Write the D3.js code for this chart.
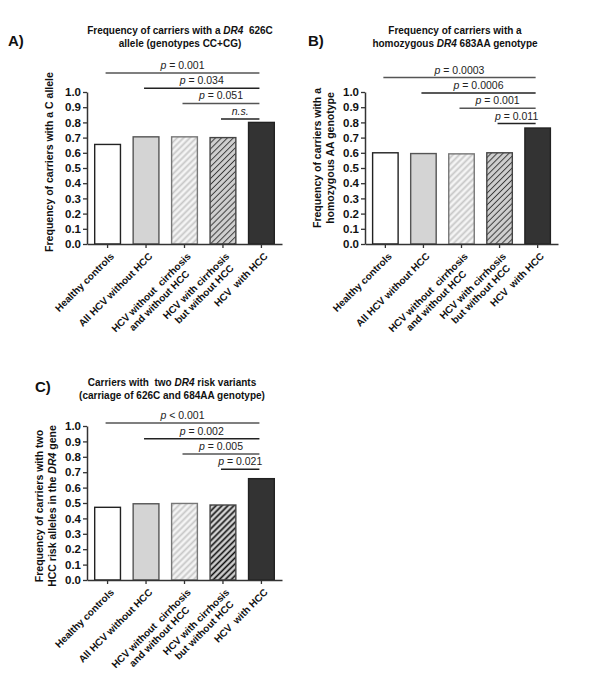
<!DOCTYPE html>
<html>
<head>
<meta charset="utf-8">
<script src="https://cdn.jsdelivr.net/npm/d3@7"></script>
<style>
  body { margin: 0; background: #fff; }
  text { font-family: "Liberation Sans", Arial, sans-serif; }
</style>
</head>
<body>
<div id="chart"></div>
<script>
// groups (\n = line break in the rotated label)
const categories = [
    "Healthy controls",
    "All HCV without HCC",
    "HCV without  cirrhosis\nand without HCC",
    "HCV with cirrhosis\nbut without HCC",
    "HCV  with HCC"
];
const valuesA = [0.655, 0.705, 0.705, 0.70, 0.80];
const valuesB = [0.60, 0.595, 0.593, 0.60, 0.763];
const valuesC = [0.472, 0.495, 0.497, 0.487, 0.658];
const yTicks = [0, 0.1, 0.2, 0.3, 0.4, 0.5, 0.6, 0.7, 0.8, 0.9, 1.0];

// p values: comparison of group i with "HCV with HCC"
const pA = ["= 0.001", "= 0.034", "= 0.051", "n.s."];
const pB = ["= 0.0003", "= 0.0006", "= 0.001", "= 0.011"];
const pC = ["< 0.001", "= 0.002", "= 0.005", "= 0.021"];

const svg = d3.select("#chart")
    .append("svg")
    .attr("width", 600)
    .attr("height", 688)
    .attr("viewBox", "0 0 600 688");

svg.append("rect").attr("width", 600).attr("height", 688).attr("fill", "#fff");

const defs = svg.append("defs");

function hatch(id, bg, line, lw, size) {
    const p = defs.append("pattern")
        .attr("id", id)
        .attr("patternUnits", "userSpaceOnUse")
        .attr("width", size)
        .attr("height", size)
        .attr("patternTransform", "rotate(45)");
    p.append("rect").attr("width", size).attr("height", size).attr("fill", bg);
    p.append("line")
        .attr("x1", size / 2).attr("y1", 0)
        .attr("x2", size / 2).attr("y2", size)
        .attr("stroke", line)
        .attr("stroke-width", lw);
}
hatch("hatchLight", "#f4f4f4", "#c8c8c8", 1.8, 4.5);
hatch("hatchDark", "#d0d0d0", "#3a3a3a", 1, 4.2);
hatch("hatchDarkC", "#d0d0d0", "#111", 1.6, 4.2);

const font = "\"Liberation Sans\", Arial, sans-serif";

function drawPanel(cfg) {
    const x = d3.scaleBand()
        .domain(categories)
        .range([cfg.left, cfg.right])
        .paddingInner(0.33)
        .paddingOuter(0.2);

    const y = d3.scaleLinear()
        .domain([0, 1])
        .range([cfg.bottom, cfg.top]);

    const g = svg.append("g");

    // bars
    g.selectAll("rect.bar")
        .data(cfg.values)
        .enter()
        .append("rect")
        .attr("class", "bar")
        .attr("x", (d, i) => x(categories[i]))
        .attr("y", (d) => y(d))
        .attr("width", x.bandwidth())
        .attr("height", (d) => y(0) - y(d))
        .attr("fill", (d, i) => cfg.fills[i])
        .attr("stroke", (d, i) => cfg.strokes[i])
        .attr("stroke-width", 1.4);

    // y axis
    const yAxis = g.append("g")
        .attr("transform", `translate(${cfg.left},0)`)
        .call(d3.axisLeft(y).tickValues(yTicks).tickFormat(d3.format(".1f")).tickSize(4).tickSizeOuter(0));
    yAxis.select(".domain").attr("stroke", "#333").attr("stroke-width", 1.5);
    yAxis.selectAll(".tick line").attr("stroke", "#333").attr("stroke-width", 1.3);
    yAxis.selectAll(".tick text")
        .attr("x", -6)
        .style("font-family", font)
        .style("font-size", "11.5px")
        .style("font-weight", "bold")
        .attr("fill", "#111");

    // x axis
    const xAxis = g.append("g")
        .attr("transform", `translate(0,${cfg.bottom})`)
        .call(d3.axisBottom(x).tickSize(4).tickSizeOuter(0).tickFormat(""));
    xAxis.select(".domain").attr("stroke", "#333").attr("stroke-width", 1.5);
    xAxis.selectAll(".tick line").attr("stroke", "#333").attr("stroke-width", 1.3);

    // rotated category labels, lines centred on each other
    categories.forEach((cat, i) => {
        const cx = x(cat) + x.bandwidth() / 2;
        const lab = g.append("g")
            .attr("transform", `translate(${cx + 7},${cfg.bottom + 13}) rotate(-45)`);
        const t = lab.append("text")
            .attr("text-anchor", "end")
            .style("font-size", "10px")
            .style("font-weight", "bold")
            .style("white-space", "pre")
            .attr("fill", "#111");
        const lines = cat.split("\n");
        const spans = lines.map((ln, j) => t.append("tspan")
            .attr("x", 0)
            .attr("y", j * 11.5)
            .text(ln));
        const lens = spans.map((s) => s.node().getComputedTextLength());
        const maxLen = d3.max(lens);
        spans.forEach((s, j) => s.attr("x", -(maxLen - lens[j]) / 2));
    });

    // significance bars
    const last = x(categories[4]) + x.bandwidth() / 2 - 2;
    cfg.pvals.forEach((pv, i) => {
        const lv = y(cfg.sigLevels[i]);
        const x1 = x(categories[i]) + x.bandwidth() / 2 - 2;
        g.append("line")
            .attr("x1", x1).attr("x2", last)
            .attr("y1", lv).attr("y2", lv)
            .attr("stroke", i % 2 === 0 ? "#555" : "#222")
            .attr("stroke-width", 1.5);
        const t = g.append("text")
            .attr("x", (x1 + last) / 2)
            .attr("y", lv - 4)
            .attr("text-anchor", "middle")
            .style("font-size", "10.5px")
            .style("white-space", "pre")
            .attr("fill", "#222");
        if (pv === "n.s.") {
            t.append("tspan").style("font-style", "italic").text("n.s.");
        } else {
            t.append("tspan").style("font-style", "italic").text("p");
            t.append("tspan").text(" " + pv);
        }
    });

    // y label
    const yl = g.append("text")
        .attr("transform", `translate(${cfg.ylabX},${cfg.ylabY}) rotate(-90)`)
        .attr("text-anchor", "middle")
        .style("font-size", "10.5px")
        .style("font-weight", "bold")
        .attr("fill", "#111");
    cfg.ylabel.forEach((ln, j) => {
        const ts = yl.append("tspan").attr("x", 0).attr("y", j * 12.5);
        ln.forEach((part) => {
            ts.append("tspan").style("font-style", part.i ? "italic" : null).text(part.t);
        });
    });

    // title
    const tt = g.append("text")
        .attr("text-anchor", "middle")
        .style("font-size", "10px")
        .style("font-weight", "bold")
        .style("white-space", "pre")
        .attr("fill", "#111");
    cfg.title.forEach((ln, j) => {
        const ts = tt.append("tspan").attr("x", cfg.titleX).attr("y", cfg.titleY + j * 12.5);
        ln.forEach((part) => {
            ts.append("tspan").style("font-style", part.i ? "italic" : null).text(part.t);
        });
    });

    // panel letter
    g.append("text")
        .attr("x", cfg.letterX)
        .attr("y", cfg.letterY)
        .style("font-size", "15px")
        .style("font-weight", "bold")
        .attr("fill", "#111")
        .text(cfg.letter);
}

const fillsAB = ["#fff", "#d4d4d4", "url(#hatchLight)", "url(#hatchDark)", "#333"];
const strokes = ["#222", "#555", "#777", "#444", "#222"];

drawPanel({
    letter: "A)", letterX: 8, letterY: 46,
    left: 87, right: 282, top: 92, bottom: 244,
    values: valuesA, pvals: pA, sigLevels: [1.125, 1.025, 0.925, 0.822],
    fills: fillsAB, strokes: strokes,
    titleX: 180, titleY: 34,
    title: [
        [{ t: "Frequency of carriers with a " }, { t: "DR4", i: true }, { t: "  626C" }],
        [{ t: "allele (genotypes CC+CG)" }]
    ],
    ylabX: 53, ylabY: 162,
    ylabel: [[{ t: "Frequency of carriers with a C allele" }]]
});

drawPanel({
    letter: "B)", letterX: 308, letterY: 46,
    left: 365, right: 558, top: 92, bottom: 244,
    values: valuesB, pvals: pB, sigLevels: [1.095, 0.993, 0.893, 0.792],
    fills: fillsAB, strokes: strokes,
    titleX: 455, titleY: 34,
    title: [
        [{ t: "Frequency of carriers with a" }],
        [{ t: "homozygous " }, { t: "DR4", i: true }, { t: " 683AA genotype" }]
    ],
    ylabX: 321, ylabY: 158,
    ylabel: [[{ t: "Frequency of carriers with a" }], [{ t: "homozygous AA genotype" }]]
});

drawPanel({
    letter: "C)", letterX: 35, letterY: 392,
    left: 87, right: 282, top: 426, bottom: 580,
    values: valuesC, pvals: pC, sigLevels: [1.019, 0.918, 0.818, 0.719],
    fills: ["#fff", "#d4d4d4", "url(#hatchLight)", "url(#hatchDarkC)", "#333"], strokes: strokes,
    titleX: 172, titleY: 386,
    title: [
        [{ t: "Carriers with  two " }, { t: "DR4", i: true }, { t: " risk variants" }],
        [{ t: "(carriage of 626C and 684AA genotype)" }]
    ],
    ylabX: 43, ylabY: 506,
    ylabel: [[{ t: "Frequency of carriers with two" }], [{ t: "HCC risk alleles in the " }, { t: "DR4", i: true }, { t: " gene" }]]
});
</script>
</body>
</html>
